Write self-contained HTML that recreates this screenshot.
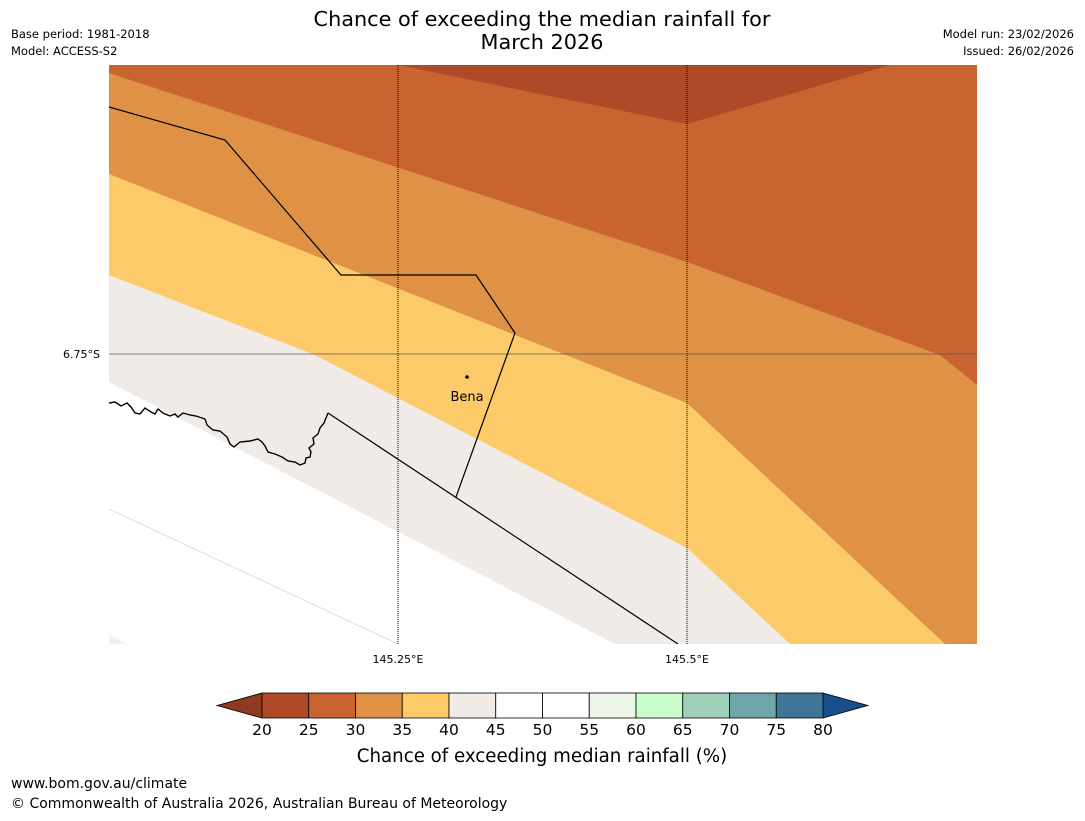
<!DOCTYPE html>
<html><head><meta charset="utf-8"><style>
body{margin:0;background:#fff;font-family:"Liberation Sans","DejaVu Sans",sans-serif}
svg text{font-family:"DejaVu Sans","Liberation Sans",sans-serif}
</style></head><body>
<svg width="1085" height="816" xmlns="http://www.w3.org/2000/svg">
<text x="542" y="26" font-size="20.8" text-anchor="middle">Chance of exceeding the median rainfall for</text>
<text x="542" y="49" font-size="20.8" text-anchor="middle">March 2026</text>
<text x="11" y="38" font-size="11.5">Base period: 1981-2018</text>
<text x="11" y="55" font-size="11.5">Model: ACCESS-S2</text>
<text x="1074" y="38" font-size="11.5" text-anchor="end">Model run: 23/02/2026</text>
<text x="1074" y="55" font-size="11.5" text-anchor="end">Issued: 26/02/2026</text>
<defs><clipPath id="mc"><rect x="109" y="65" width="868" height="579"/></clipPath></defs>
<g clip-path="url(#mc)">
<rect x="109" y="65" width="868" height="579" fill="#ffffff"/>
<polygon fill="#f0ebe6" points="109,65 977,65 977,644 615,644 109,382"/>
<polygon fill="#fdca6a" points="109,65 977,65 977,644 790,644 687,548 315,355 109,275"/>
<polygon fill="#df9246" points="109,65 977,65 977,644 945,644 687,403 109,174"/>
<polygon fill="#c96431" points="109,65 977,65 977,385 940,355 687,262 109,73"/>
<polygon fill="#ae4a27" points="398,65 890,65 687,124"/>
<line x1="109" y1="509" x2="398" y2="644" stroke="#ddd" stroke-width="1"/>
<polygon points="109,635 128,644 109,644" fill="#ebf6e9"/>
<line x1="398" y1="65" x2="398" y2="644" stroke="#000" stroke-width="1" stroke-dasharray="1,1"/>
<line x1="687" y1="65" x2="687" y2="644" stroke="#000" stroke-width="1" stroke-dasharray="1,1"/>
<line x1="109" y1="354" x2="977" y2="354" stroke="#555" stroke-width="1" opacity="0.7"/>
<polyline fill="none" stroke="#000" stroke-width="1.2" points="109,107 225,140 341,275 476,275 515,333 456,497"/>
<polyline fill="none" stroke="#000" stroke-width="1.2" points="328,413 678,644"/>
<polyline fill="none" stroke="#000" stroke-width="1.4" points="109,403 115,402 121,406 127,403 131,407 135,413 140,414 145,408 151,412 155,414 158,409 163,413 170,416 175,414 178,417 183,413 190,415 196,416 205,419 207,425 213,430 220,431 227,437 230,444 234,447 240,442 250,441 258,439 262,442 265,446 268,452 275,454 282,457 288,461 295,462 300,465 305,463 306,458 310,457 311,452 309,448 314,444 313,438 318,434 320,428 324,423 328,413"/>
<circle cx="467" cy="377" r="1.8" fill="#000"/>
<text x="467" y="401" font-size="13" text-anchor="middle">Bena</text>
</g>
<text x="100" y="358" font-size="11" text-anchor="end">6.75°S</text>
<text x="398" y="663" font-size="11" text-anchor="middle">145.25°E</text>
<text x="687" y="663" font-size="11" text-anchor="middle">145.5°E</text>
<g id="cbar"></g>
<text x="542" y="762" font-size="18.2" text-anchor="middle">Chance of exceeding median rainfall (%)</text>
<text x="11" y="788" font-size="14">www.bom.gov.au/climate</text>
<text x="11" y="808" font-size="14">© Commonwealth of Australia 2026, Australian Bureau of Meteorology</text>
</svg>
<script>
const levels=[20,25,30,35,40,45,50,55,60,65,70,75,80];
const colors=["#ae4a27","#c96431","#df9246","#fdca6a","#f0ebe6","#ffffff","#ffffff","#ebf6e9","#c9fccc","#9dcfb9","#6fa6a9","#3f7697"];
const NS="http://www.w3.org/2000/svg";
const g=document.getElementById('cbar');
const x0=262,x1=823,y0=693,h=25;
const xs=v=>x0+(v-levels[0])/(levels[levels.length-1]-levels[0])*(x1-x0);
function mk(t,a){const e=document.createElementNS(NS,t);for(const k in a)e.setAttribute(k,a[k]);g.appendChild(e);return e;}
const lt=mk('polygon',{points:`${x0},${y0} ${x0},${y0+h} 217,${y0+h/2}`,fill:"#8f3a1f",stroke:"#000","stroke-width":0.8});


const rt=mk('polygon',{points:`${x1},${y0} ${x1},${y0+h} 868,${y0+h/2}`,fill:"#164f8a",stroke:"#000","stroke-width":0.8});


for(let i=0;i<colors.length;i++){
 const r=mk('rect',{x:xs(levels[i]),y:y0,width:xs(levels[i+1])-xs(levels[i]),height:h,fill:colors[i],stroke:"#000","stroke-width":0.8});
 
 
}
levels.forEach(v=>{
 const t=mk('text',{x:xs(v),y:735,"font-size":15.5,"text-anchor":"middle"});
 t.textContent=v;
 
 
});
</script>
</body></html>
